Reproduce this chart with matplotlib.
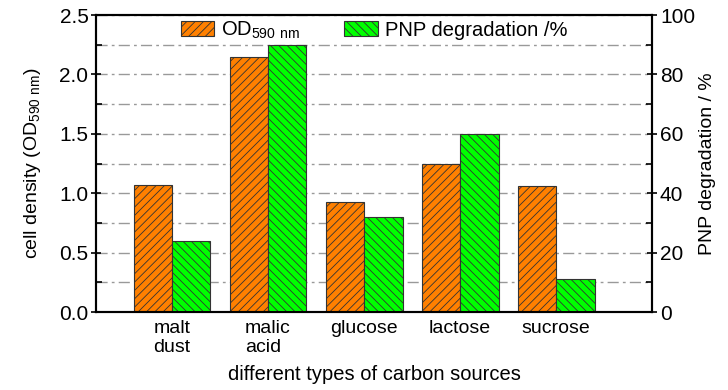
import matplotlib
matplotlib.use("Agg")
import numpy as np
import matplotlib.pyplot as plt
from matplotlib.ticker import MultipleLocator, FormatStrFormatter

plt.rcParams['font.family'] = ['Liberation Sans', 'DejaVu Sans']
plt.rcParams['hatch.linewidth'] = 0.6
plt.rcParams['mathtext.fontset'] = 'custom'
plt.rcParams['mathtext.rm'] = 'Liberation Sans'

categories = ['malt\ndust', 'malic\nacid', 'glucose', 'lactose', 'sucrose']
od_values = [1.07, 2.15, 0.93, 1.25, 1.06]
pnp_values = [24, 90, 32, 60, 11]

x = np.arange(1, len(categories) + 1)
w = 0.4

fig = plt.figure(figsize=(7.28, 3.90), dpi=100)
ax = fig.add_axes([0.132, 0.2, 0.764, 0.7615])
ax2 = ax.twinx()

b1 = ax.bar(x - w/2, od_values, w, color='#FF8000', edgecolor='#333333',
            hatch='////', linewidth=0.8, label=r'OD$_{\mathrm{590\ nm}}$')
b2 = ax2.bar(x + w/2, pnp_values, w, color='#00FF00', edgecolor='#333333',
             hatch='\\\\\\\\', linewidth=0.8, label='PNP degradation /%')

ax.set_xlim(0.21, 6.0)
ax.set_ylim(0, 2.5)
ax2.set_ylim(0, 100)

ax.yaxis.set_major_locator(MultipleLocator(0.5))
ax.yaxis.set_minor_locator(MultipleLocator(0.25))
ax2.yaxis.set_major_locator(MultipleLocator(20))
ax2.yaxis.set_minor_locator(MultipleLocator(10))
ax.yaxis.set_major_formatter(FormatStrFormatter('%.1f'))

ax.set_axisbelow(True)
ax.grid(axis='y', which='both', color='#999999', linestyle=(0, (8, 3, 2, 3)), linewidth=1.0)

ax.set_xticks(x)
ax.set_xticklabels(categories, fontsize=14, linespacing=1.1, multialignment='left')
ax.tick_params(axis='x', length=0, pad=6)
ax.tick_params(axis='y', which='major', direction='inout', length=7, width=1.2, labelsize=15, pad=2)
ax.tick_params(axis='y', which='minor', direction='in', length=4, width=1.2)
ax2.tick_params(axis='y', which='major', direction='inout', length=7, width=1.2, labelsize=15, pad=2)
ax2.tick_params(axis='y', which='minor', direction='in', length=4, width=1.2)

for a in (ax, ax2):
    for s in a.spines.values():
        s.set_linewidth(1.5)

ax.set_ylabel(r'cell density (OD$_{\mathrm{590\ nm}}$)', fontsize=14, labelpad=12)
ax2.set_ylabel('PNP degradation / %', fontsize=14, labelpad=3)
ax.set_xlabel('different types of carbon sources', fontsize=14.5, labelpad=7)

ax.legend(handles=[b1, b2], loc='upper center', bbox_to_anchor=(0.5, 1.045),
          ncol=2, frameon=False, fontsize=14.5, handlelength=1.65, handleheight=0.8,
          columnspacing=2.2, handletextpad=0.35)

fig.savefig('out.png', dpi=100)
